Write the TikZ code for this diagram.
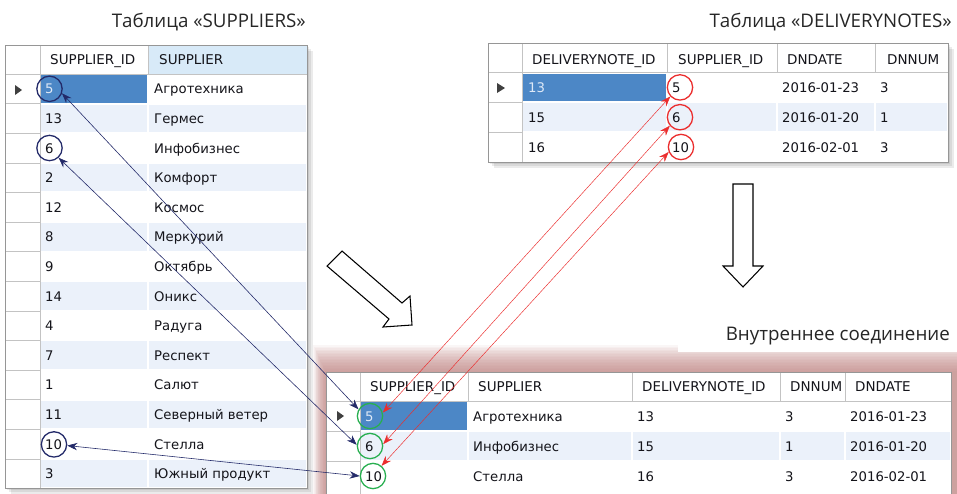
\documentclass[tikz,border=0pt]{standalone}
\usepackage{fontspec}
\setmainfont{Open Sans}
\newfontfamily\gridfont{DejaVu Sans}
\usepackage{tikz}
\usetikzlibrary{arrows.meta, positioning, calc}
\usepackage{xcolor}
\definecolor{selblue}{RGB}{76,135,198}
\definecolor{selfg}{RGB}{222,233,247}
\definecolor{bandblue}{RGB}{235,241,250}
\definecolor{headblue}{RGB}{216,234,248}
\definecolor{gridgray}{RGB}{195,195,195}
\definecolor{framegray}{RGB}{150,150,150}
\definecolor{navy}{RGB}{35,42,105}
\definecolor{linkred}{RGB}{235,45,45}
\definecolor{ringgreen}{RGB}{40,175,80}
\definecolor{glowred}{RGB}{185,122,120}
\definecolor{inktext}{RGB}{20,20,26}

\tikzset{
  cell/.style={anchor=base west, inner sep=0pt, text=inktext, font=\gridfont\fontsize{11.3}{13}\selectfont},
  headcell/.style={cell, font=\gridfont\fontsize{11.5}{13}\selectfont},
  caption/.style={anchor=base east, inner sep=0pt, text=black!85, font=\fontsize{16}{19}\selectfont},
  ring/.style={circle, draw, line width=1.1pt, minimum size=7.6mm, inner sep=0pt},
  link/.style={line width=0.5pt, {Stealth[length=3mm,width=2.2mm]}-{Stealth[length=3mm,width=2.2mm]}},
  blockarrow/.style={draw=black, line width=0.9pt, fill=white, line join=miter},
  rowmark/.style={fill=black!75}
}

\begin{document}
\begin{tikzpicture}[x=0.03cm, y=-0.03cm]
  \useasboundingbox (0,0) rectangle (957,493);
  \node[caption] (capS) at (306,27) {Таблица «SUPPLIERS»};
  \node[caption] (capD) at (952,27) {Таблица «DELIVERYNOTES»};

  % SUPPLIERS
  \foreach \k in {6,4,2} \fill[black, opacity=0.08] (5+\k,45+\k) rectangle (307+\k,488+\k);
  \fill[white] (5,45) rectangle (307,488);
  \fill[headblue] (148.5,45.5) rectangle (306.5,73.5);
  \foreach \r in {2,4,...,14} {
    \fill[bandblue] (41,{74+(\r-1)*29.6+1}) rectangle (147,{74+\r*29.6-1});
    \fill[bandblue] (149,{74+(\r-1)*29.6+1}) rectangle (306,{74+\r*29.6-1});
  }
  \fill[selblue] (41,75) rectangle (147,102.6);
  \foreach \r in {1,...,13} \draw[gridgray] (5,{74+\r*29.6}) -- (40,{74+\r*29.6});
  \draw[gridgray] (40,45) -- (40,488) (5,74) -- (307,74) (148,45) -- (148,74);
  \draw[framegray] (5,45) rectangle (307,488);
  \fill[rowmark] (15,85) -- (22,90) -- (15,95) -- cycle;
  \node[headcell] (sHid) at (50,64.5) {SUPPLIER\_ID};
  \node[headcell] (sHname) at (159,64.5) {SUPPLIER};
  \foreach \id/\name [count=\r] in {5/Агротехника, 13/Гермес, 6/Инфобизнес, 2/Комфорт, 12/Космос, 8/Меркурий, 9/Октябрь, 14/Оникс, 4/Радуга, 7/Респект, 1/Салют, 11/Северный ветер, 10/Стелла, 3/Южный продукт} {
    \node[cell] (s-id-\r) at (45,{74+(\r-0.5)*29.6+5}) {\ifnum\r=1 \color{selfg}\fi\id};
    \node[cell] (s-name-\r) at (154,{74+(\r-0.5)*29.6+5}) {\name};
  }

  % DELIVERYNOTES
  \foreach \k in {6,4,2} \fill[black, opacity=0.08] (488+\k,43+\k) rectangle (948+\k,162+\k);
  \fill[white] (488,43) rectangle (948,162);
  \foreach \a/\b in {522/667, 667/777, 777/875, 875/948} \fill[bandblue] (\a+1,103.3) rectangle (\b-1,131.1);
  \fill[selblue] (523,73.5) rectangle (666,101.3);
  \draw[gridgray] (488,102.3) -- (522,102.3) (488,132.1) -- (522,132.1) (522,43) -- (522,162) (488,72.5) -- (948,72.5);
  \foreach \c in {667,777,875} \draw[gridgray] (\c,43) -- (\c,72.5);
  \draw[framegray] (488,43) rectangle (948,162);
  \fill[rowmark] (497,83) -- (505,88) -- (497,93) -- cycle;
  \foreach \x/\t [count=\c] in {532/DELIVERYNOTE\_ID, 678/SUPPLIER\_ID, 787/DNDATE, 887/DNNUM}
    \node[headcell] (dH-\c) at (\x,64) {\t};
  \foreach \dn/\sid/\dt/\num [count=\r] in {13/5/2016-01-23/3, 15/6/2016-01-20/1, 16/10/2016-02-01/3} {
    \node[cell] (d-dn-\r) at (528,{72.5+(\r-0.5)*29.8+5}) {\ifnum\r=1 \color{selfg}\fi\dn};
    \node[cell] (d-sid-\r) at (672,{72.5+(\r-0.5)*29.8+5}) {\sid};
    \node[cell] (d-dt-\r) at (782,{72.5+(\r-0.5)*29.8+5}) {\dt};
    \node[cell] (d-num-\r) at (880,{72.5+(\r-0.5)*29.8+5}) {\num};
  }

  % big arrows
  \draw[blockarrow] (733,184) -- (753,184) -- (753,266) -- (763,266) -- (743,287) -- (723,266) -- (733,266) -- cycle;
  \draw[blockarrow] (342,251) -- (402,303) -- (410,296) -- (412,325) -- (383,327) -- (389,319) -- (327,266) -- cycle;

  % inner join result
  \foreach \k in {1,...,18} \fill[glowred, opacity=0.065] ({326-0.7*\k},{372-1.5*\k}) rectangle (957,495);
  \fill[white] (678,300) rectangle (957,352);
  \node[caption] (capJ) at (950,340) {Внутреннее соединение};
  \fill[white] (326,372) rectangle (951,495);
  \foreach \a/\b in {360/468, 468/632, 632/780, 780/845, 845/951} \fill[bandblue] (\a+1,432) rectangle (\b-1,460);
  \fill[selblue] (361,402) rectangle (467,430);
  \draw[gridgray] (326,431) -- (360,431) (326,461) -- (360,461) (360,372) -- (360,495) (326,401) -- (951,401);
  \foreach \c in {468,632,780,845} \draw[gridgray] (\c,372) -- (\c,401);
  \draw[framegray] (326,372) rectangle (951,495);
  \fill[rowmark] (337,411) -- (344,416) -- (337,421) -- cycle;
  \foreach \x/\t [count=\c] in {370/SUPPLIER\_ID, 478/SUPPLIER, 642/DELIVERYNOTE\_ID, 790/DNNUM, 855/DNDATE}
    \node[headcell] (jH-\c) at (\x,391.5) {\t};
  \foreach \sid/\name/\dn/\num/\dt [count=\r] in {5/Агротехника/13/3/2016-01-23, 6/Инфобизнес/15/1/2016-01-20, 10/Стелла/16/3/2016-02-01} {
    \node[cell] (j-sid-\r) at (365,{401+(\r-0.5)*30+5}) {\ifnum\r=1 \color{selfg}\fi\sid};
    \node[cell] (j-name-\r) at (473,{401+(\r-0.5)*30+5}) {\name};
    \node[cell] (j-dn-\r) at (637,{401+(\r-0.5)*30+5}) {\dn};
    \node[cell] (j-num-\r) at (785,{401+(\r-0.5)*30+5}) {\num};
    \node[cell] (j-dt-\r) at (850,{401+(\r-0.5)*30+5}) {\dt};
  }

  % rings round the keys
  \node[ring, draw=navy] (sr5) at (49.5,88.8) {};
  \node[ring, draw=navy] (sr6) at (49.5,148) {};
  \node[ring, draw=navy] (sr10) at (54,444.4) {};
  \node[ring, draw=linkred] (dr5) at (680,87.4) {};
  \node[ring, draw=linkred] (dr6) at (680,117.2) {};
  \node[ring, draw=linkred] (dr10) at (681,147) {};
  \node[ring, draw=ringgreen] (jr5) at (370,416) {};
  \node[ring, draw=ringgreen] (jr6) at (370,446) {};
  \node[ring, draw=ringgreen] (jr10) at (373,476) {};

  % links
  \draw[link, navy] (sr5.-20) -- (jr5.150);
  \draw[link, navy] (sr6.-47) -- (jr6.175);
  \draw[link, navy] (sr10.-5) -- (jr10.180);
  \draw[link, linkred, line width=0.4pt] (dr5.-137) -- (jr5.15);
  \draw[link, linkred, line width=0.4pt] (dr6.-140) -- (jr6.8);
  \draw[link, linkred, line width=0.4pt] (dr10.-158) -- (jr10.50);
\end{tikzpicture}
\end{document}
